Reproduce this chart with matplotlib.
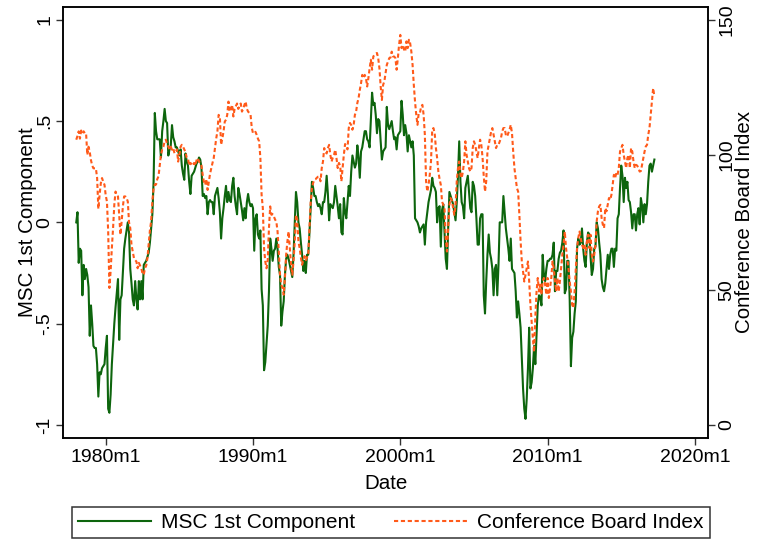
import numpy as np
import matplotlib
matplotlib.use("Agg")
import matplotlib.pyplot as plt

plt.rcParams['font.family'] = ['Liberation Sans', 'DejaVu Sans']

# monthly series, 1978m1 .. 2017m4
start_year = 1978

msc = [
    0.00, 0.05, -0.20, -0.13, -0.14, -0.36, -0.21, -0.28, -0.23, -0.26, -0.32, -0.56,   # 1978
    -0.41, -0.50, -0.61, -0.62, -0.62, -0.70, -0.86, -0.74, -0.75, -0.72, -0.71, -0.70,  # 1979
    -0.62, -0.56, -0.92, -0.94, -0.85, -0.70, -0.60, -0.50, -0.42, -0.35, -0.28, -0.58,  # 1980
    -0.38, -0.36, -0.24, -0.13, -0.08, -0.04, 0.00, -0.05, -0.23, -0.30, -0.38, -0.41,   # 1981
    -0.29, -0.38, -0.43, -0.29, -0.38, -0.29, -0.38, -0.21, -0.20, -0.19, -0.17, -0.15,  # 1982
    -0.10, -0.03, 0.04, 0.20, 0.54, 0.45, 0.41, 0.41, 0.41, 0.32, 0.45, 0.50,            # 1983
    0.56, 0.50, 0.49, 0.33, 0.36, 0.38, 0.48, 0.42, 0.40, 0.37, 0.37, 0.35,              # 1984
    0.33, 0.36, 0.28, 0.24, 0.21, 0.34, 0.30, 0.28, 0.20, 0.14, 0.23, 0.24,              # 1985
    0.25, 0.27, 0.29, 0.30, 0.32, 0.31, 0.27, 0.13, 0.14, 0.12, 0.13, 0.04,              # 1986
    0.10, 0.11, 0.10, 0.10, 0.04, 0.13, 0.15, 0.17, 0.12, 0.05, -0.08, 0.02,             # 1987
    0.07, 0.13, 0.18, 0.10, 0.15, 0.11, 0.10, 0.18, 0.22, 0.13, 0.08, 0.04,              # 1988
    0.17, 0.14, 0.10, 0.06, 0.01, 0.07, 0.02, 0.10, 0.14, 0.10, 0.08, 0.09,              # 1989
    0.07, -0.14, 0.02, 0.04, -0.06, -0.08, -0.04, -0.33, -0.41, -0.73, -0.69, -0.60,     # 1990
    -0.51, -0.34, -0.08, -0.13, -0.19, -0.14, -0.13, -0.08, -0.13, -0.22, -0.26, -0.51,  # 1991
    -0.44, -0.39, -0.26, -0.18, -0.16, -0.18, -0.21, -0.24, -0.27, -0.16, 0.00, 0.15,    # 1992
    0.10, 0.00, -0.03, -0.10, -0.16, -0.24, -0.19, -0.25, -0.16, -0.16, -0.05, 0.08,     # 1993
    0.20, 0.17, 0.13, 0.13, 0.10, 0.08, 0.09, 0.07, 0.04, 0.10, 0.10, 0.15,              # 1994
    0.23, 0.14, 0.01, 0.09, 0.08, 0.07, 0.10, 0.18, 0.13, 0.08, 0.02, 0.09,              # 1995
    -0.05, -0.06, 0.12, 0.05, 0.02, 0.10, 0.18, 0.13, 0.25, 0.33, 0.30, 0.27,            # 1996
    0.29, 0.38, 0.32, 0.22, 0.35, 0.37, 0.41, 0.45, 0.45, 0.41, 0.40, 0.37,              # 1997
    0.50, 0.64, 0.58, 0.59, 0.53, 0.44, 0.51, 0.50, 0.40, 0.31, 0.35, 0.36,              # 1998
    0.37, 0.57, 0.48, 0.46, 0.48, 0.50, 0.45, 0.41, 0.42, 0.36, 0.43, 0.44,              # 1999
    0.45, 0.60, 0.53, 0.43, 0.48, 0.44, 0.35, 0.43, 0.40, 0.37, 0.40, 0.33,              # 2000
    0.02, 0.01, 0.00, -0.02, -0.05, -0.03, -0.02, -0.01, -0.11, 0.00, 0.05, 0.10,        # 2001
    0.13, 0.16, 0.22, 0.18, 0.17, 0.15, 0.00, 0.07, 0.08, -0.12, 0.06, 0.09,             # 2002
    -0.05, -0.18, -0.23, -0.03, 0.15, 0.13, 0.11, 0.09, 0.05, 0.01, 0.10, 0.23,          # 2003
    0.40, 0.20, 0.10, 0.08, 0.02, 0.17, 0.20, 0.23, 0.15, 0.07, 0.05, 0.20,              # 2004
    0.18, 0.13, 0.02, -0.11, -0.11, 0.02, 0.04, 0.04, -0.36, -0.45, -0.29, -0.16,        # 2005
    -0.06, -0.15, -0.18, -0.23, -0.36, -0.23, -0.21, -0.36, -0.21, 0.00, 0.00, 0.00,     # 2006
    0.13, 0.05, -0.03, -0.08, -0.13, -0.19, -0.08, -0.23, -0.24, -0.25, -0.34, -0.47,    # 2007
    -0.39, -0.45, -0.52, -0.67, -0.82, -0.92, -0.97, -0.87, -0.72, -0.52, -0.82, -0.79,  # 2008
    -0.72, -0.61, -0.70, -0.56, -0.41, -0.36, -0.37, -0.41, -0.16, -0.26, -0.29, -0.23,  # 2009
    -0.19, -0.19, -0.18, -0.18, -0.16, -0.10, -0.34, -0.24, -0.24, -0.18, -0.15, -0.14,  # 2010
    -0.10, -0.04, -0.35, -0.33, -0.19, -0.19, -0.38, -0.71, -0.57, -0.54, -0.45, -0.39,  # 2011
    -0.13, -0.08, -0.11, -0.10, -0.03, -0.13, -0.19, -0.22, -0.10, -0.05, -0.06, -0.17,  # 2012
    -0.26, -0.23, -0.13, -0.12, 0.00, -0.03, -0.10, -0.16, -0.28, -0.32, -0.34, -0.30,   # 2013
    -0.23, -0.16, -0.23, -0.16, -0.13, -0.13, -0.22, -0.13, -0.14, 0.02, 0.04, 0.17,     # 2014
    0.28, 0.23, 0.10, 0.22, 0.17, 0.20, 0.11, 0.10, 0.05, -0.03, 0.04, 0.04,             # 2015
    -0.04, 0.04, 0.07, -0.01, 0.12, 0.08, 0.00, 0.09, 0.04, 0.09, 0.20, 0.28,            # 2016
    0.29, 0.25, 0.28, 0.31,                                                              # 2017
]

cbi = [
    105.6, 107, 108.7, 106, 109, 108, 108.7, 108, 108, 100, 103, 101,            # 1978
    98, 96, 95, 95, 95, 91.4, 80, 85, 89.5, 91.4, 90, 88.9,                      # 1979
    85, 82.7, 71.7, 50.7, 57, 65.5, 72.9, 81.5, 86.4, 85, 84.6, 77.8,            # 1980
    70.4, 75.4, 81, 84.6, 84.6, 84, 82.7, 75, 72.9, 66.7, 64.2, 61.8,            # 1981
    61, 60.5, 58, 60, 59, 58, 56, 55.6, 58, 59, 61.8, 66.7,                      # 1982
    72, 75.4, 82.7, 87.7, 89, 89, 91, 92, 96, 100, 102, 103,                     # 1983
    105, 105.6, 104, 103, 102, 103, 101.9, 102.5, 100.6, 101, 102, 97.5,         # 1984
    100, 103, 103.7, 103, 102, 101, 99, 98.8, 96, 97, 96.5, 96,                  # 1985
    97, 96, 98, 98.8, 97.5, 97, 96, 92.6, 90, 88.9, 91, 87,                      # 1986
    90, 93, 95, 97, 98.8, 102.5, 106, 108.7, 114.8, 114, 103.7, 106,             # 1987
    108.7, 112.3, 113, 114.8, 119.7, 116, 117, 118.5, 114.2, 117, 118, 119,      # 1988
    117, 118, 119, 116, 117, 118.5, 119.7, 117, 116, 115.5, 114.8, 110,          # 1989
    108, 108, 108.5, 107.4, 106, 105, 98.8, 85.2, 80.3, 65.5, 60.5, 58,          # 1990
    61, 72.9, 80.9, 77.8, 78, 77.2, 76, 75.3, 71.6, 64.2, 55.6, 51.9,            # 1991
    50.7, 48.2, 54.4, 63, 67.9, 71.6, 65.5, 59.3, 55.6, 60.5, 67.9, 77.8,        # 1992
    76, 67.9, 65.5, 62, 59.3, 61, 62.5, 61, 62, 63, 72.9, 82.7,                  # 1993
    87.7, 89.6, 90.8, 91, 91.5, 91.9, 92, 90.2, 95.1, 97.5, 102.5, 101.2,        # 1994
    100.5, 102.5, 103.7, 100, 97.5, 99, 100, 101.9, 98.8, 95.1, 97, 96,          # 1995
    90.2, 95.1, 100, 104, 103, 102, 109.9, 111.8, 111, 109.3, 111.1, 114.8,      # 1996
    116, 119.2, 121, 124, 126.5, 129.6, 128.4, 129.6, 128.4, 125.3, 128.4, 132,  # 1997
    135.2, 131.5, 136.4, 137, 137.5, 137.7, 135.8, 132, 125.3, 120.3, 125.9, 127.2,  # 1998
    130.2, 133.3, 134.5, 135.8, 136, 138.2, 136.4, 136.4, 135.8, 131.5, 135.8, 140.7,  # 1999
    144.4, 139.5, 140.7, 139, 138.2, 142, 139.5, 142.6, 141.4, 138.2, 133.3, 125.9,  # 2000
    119.7, 114.8, 111.1, 115.5, 115.5, 117.9, 118.5, 114.8, 107.4, 90.2, 86.4, 88.9,  # 2001
    92.6, 97.5, 109.3, 109.9, 108, 102.5, 98.8, 93.8, 91, 88.9, 82.7, 81.5,      # 2002
    80.3, 69.2, 64.2, 72.9, 81.5, 84, 83, 80.3, 77.8, 81.5, 90.2, 95.1,          # 2003
    97.5, 92.6, 91.4, 93.8, 97.5, 105, 100, 97.5, 95, 93.8, 95.1, 102.5,         # 2004
    105, 103.7, 101.2, 98.8, 102.5, 105.6, 103.7, 99, 92, 86.4, 90.2, 101.2,     # 2005
    103.7, 106.2, 108.6, 109.9, 107.4, 105, 102.5, 103.7, 103.7, 105, 106.2, 108.6,  # 2006
    109.9, 109.9, 107.4, 106.8, 108, 109.3, 111.1, 108, 101, 95, 91.4, 87.7,     # 2007
    86.4, 77.8, 68, 60.5, 56.8, 53.1, 55.6, 58, 60.5, 53.1, 44.5, 38,            # 2008
    32, 27, 40, 49.4, 54.4, 49.4, 51.9, 48.2, 53.1, 54.4, 51.9, 48.2,            # 2009
    54.4, 47, 50.7, 54.4, 60.5, 58, 53.1, 49.4, 54.4, 49.4, 53.1, 58,            # 2010
    63, 66.7, 71.6, 65.5, 61.8, 58, 53.1, 49.4, 44.5, 43.3, 49.4, 58,            # 2011
    65.5, 69.2, 71.6, 69.2, 66.7, 65.5, 66.7, 63, 67.9, 70.4, 65.5, 70.4,        # 2012
    63, 60.5, 63, 66.7, 75.4, 79.1, 80.9, 81.5, 76.6, 74.1, 72.9, 80.3,          # 2013
    79.1, 81.5, 84, 83.3, 85.2, 88.9, 92.6, 91.4, 93.3, 92.6, 95.1, 101.2,       # 2014
    102.5, 103.7, 100, 97.5, 95.1, 98.8, 100, 95.1, 102.5, 101.2, 97.5, 95.1,    # 2015
    96.3, 96, 95.1, 93.8, 94, 96.3, 98.8, 101.2, 103.1, 103.7, 107.4, 109.9,     # 2016
    114.8, 120, 124.7, 121.6,                                                    # 2017
]

tick_years = [1980, 1990, 2000, 2010, 2020]
tick_labels = ['1980m1', '1990m1', '2000m1', '2010m1', '2020m1']
left_ticks = [-1, -0.5, 0, 0.5, 1]
left_labels = ['-1', '-.5', '0', '.5', '1']
right_ticks = [0, 50, 100, 150]

dates = start_year + np.arange(len(msc)) / 12.0

green = '#0d650d'
orange = '#ff5a1a'
fs = 14        # tick labels
fs_title = 14.8
fs_leg = 15

W, H = 759, 542
fig = plt.figure(figsize=(W / 100, H / 100), dpi=100)
ax = fig.add_axes([63 / W, 1 - 437.7 / H, 645 / W, 430.7 / H])
ax2 = ax.twinx()

l1, = ax.plot(dates, msc, color=green, lw=1.5, label='MSC 1st Component')
l2, = ax2.plot(dates, cbi, color=orange, lw=1.5, linestyle=(0, (2.0, 1.3)),
               label='Conference Board Index')

ylo, yhi = -1.063, 1.063
ax.set_ylim(ylo, yhi)
ax2.set_ylim((ylo + 1) * 75, (yhi + 1) * 75)
ax.set_xlim(1977.10, 2020.89)

ax.set_xticks(tick_years)
ax.set_xticklabels(tick_labels, fontsize=fs)
ax.set_yticks(left_ticks)
ax.set_yticklabels(left_labels, fontsize=fs, rotation=90, va='center')
ax2.set_yticks(right_ticks)
ax2.set_yticklabels([str(v) for v in right_ticks], fontsize=fs, rotation=90, va='center')

for a in (ax, ax2):
    a.tick_params(length=5, width=1, color='#333333')
    for s in a.spines.values():
        s.set_linewidth(1.1)
ax.tick_params(axis='x', pad=3.2)
ax.tick_params(axis='y', pad=2.2)
ax2.tick_params(axis='y', pad=2.5)

ax.set_xlabel('Date', fontsize=fs_title, labelpad=5.5)
ax.set_ylabel('MSC 1st Component', fontsize=fs_title)
ax.yaxis.set_label_coords((37 - 63) / 645, 0.5)
ax2.set_ylabel('Conference Board Index', fontsize=fs_title)
ax2.yaxis.set_label_coords((735.5 - 63) / 645, 0.5)

leg = fig.legend(handles=[l1, l2], loc='center', ncol=2, mode='expand',
                 bbox_to_anchor=(72 / W, 1 / H, 638 / W, 37 / H),
                 fontsize=fs_leg, frameon=True, fancybox=False, edgecolor='black',
                 handlelength=3.5, handletextpad=0.48, columnspacing=2.0,
                 borderaxespad=0, borderpad=0.3)
leg.get_frame().set_linewidth(1.1)

fig.savefig('out.png', dpi=100)
